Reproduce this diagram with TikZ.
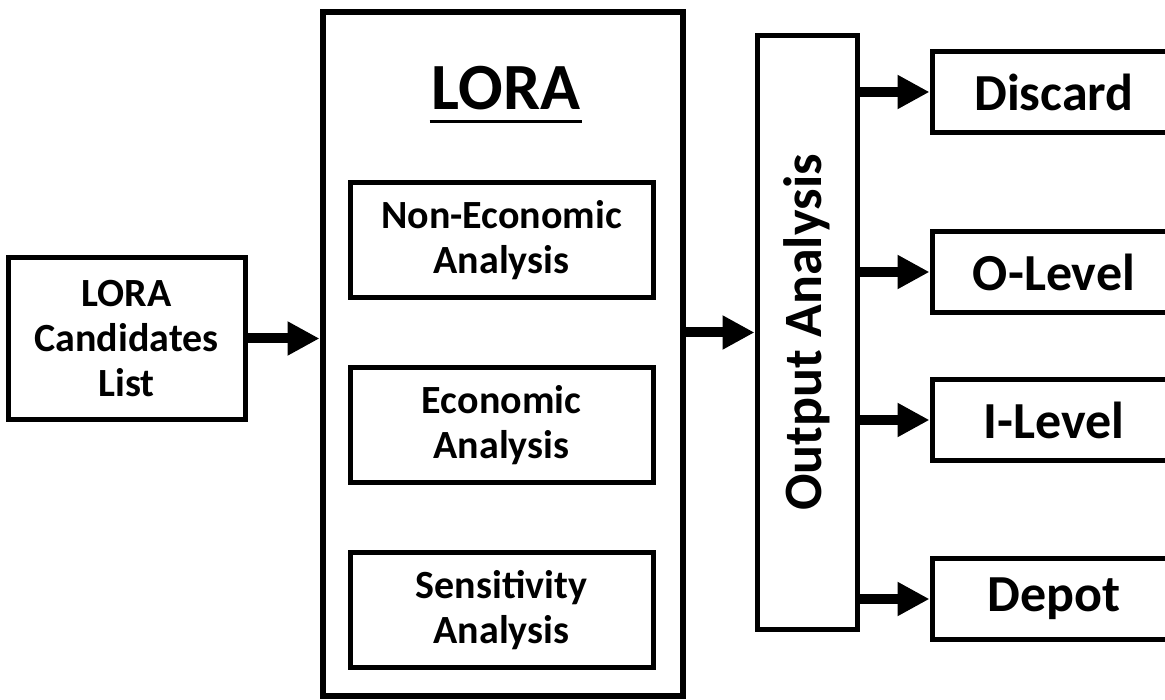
\documentclass[tikz,border=0pt]{standalone}
\usepackage{fontspec}
\setmainfont{Carlito}
\usetikzlibrary{positioning,arrows.meta}

\begin{document}
\begin{tikzpicture}[x=1pt,y=-1pt,>={Triangle[length=32pt,width=32pt]},node distance=65pt,
		box/.style={draw,line width=5pt,align=center,inner sep=0pt,font=\bfseries\fontsize{40}{45}\selectfont},
		inbox/.style={box,minimum width=303pt,minimum height=115pt},
		outbox/.style={box,minimum width=244pt,minimum height=81pt,font=\bfseries\fontsize{52}{60}\selectfont},
		arr/.style={->,line width=10pt}]
		\useasboundingbox (0,0) rectangle (1165,700);
		\clip (0,0) rectangle (1165,700);

		\node[box,minimum width=237pt,minimum height=162pt] (cand) at (126.5,338.5) {LORA\\Candidates\\List};
		\node[box,line width=6pt,minimum width=360pt,minimum height=684pt] (lora) at (502.5,354) {};
		\node[inner sep=0pt,anchor=base,font=\bfseries\fontsize{66}{70}\selectfont] (title) at (506,110) {LORA};
		\node[inbox] (neco) at (501.5,240) {Non-Economic\\Analysis};
		\node[inbox] (eco) [below=of neco] {Economic\\Analysis};
		\node[inbox] (sens) [below=of eco] {Sensitivity\\Analysis};
		\node[box,minimum width=100pt,minimum height=593pt] (outa) at (807,332.5) {};
		\node[rotate=90,font=\bfseries\fontsize{54}{60}\selectfont] (outatext) at (outa) {Output Analysis};
		\node[outbox] (disc) at (1054,92) {Discard};
		\node[outbox] (olev) at (1054,272) {O-Level};
		\node[outbox] (ilev) at (1054,420) {I-Level};
		\node[outbox] (depot) at (1054,599) {Depot};

		\draw[line width=3pt] ([xshift=-2pt,yshift=-12pt]title.base west) -- ([xshift=2pt,yshift=-12pt]title.base east);

		\draw[arr] (cand.east) -- (cand.east -| lora.west);
		\draw[arr] (lora.east |- outa.west) -- (outa.west);
		\draw[arr] (outa.east |- disc.west) -- (disc.west);
		\draw[arr] (outa.east |- olev.west) -- (olev.west);
		\draw[arr] (outa.east |- ilev.west) -- (ilev.west);
		\draw[arr] (outa.east |- depot.west) -- (depot.west);
\end{tikzpicture}
\end{document}
